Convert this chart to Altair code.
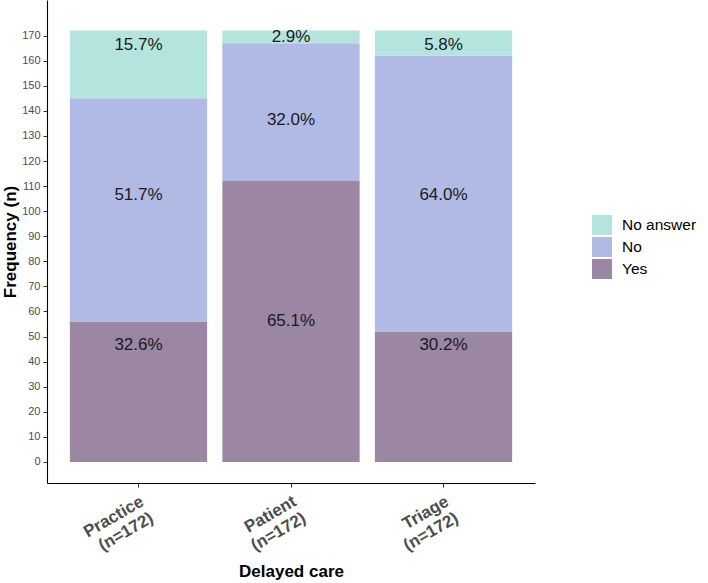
import altair as alt
import pandas as pd

# Survey responses on delayed care, by respondent group (n=172 each)
groups = ["Practice (n=172)", "Patient (n=172)", "Triage (n=172)"]
responses = ["No answer", "No", "Yes"]
yes_n = [56, 112, 52]
no_n = [89, 55, 110]
no_answer_n = [27, 5, 10]
group_total = [172, 172, 172]

# Heights (in counts) where the percentage labels sit
yes_label_y = [47.0, 56.7, 47.0]
no_label_y = [106.7, 136.8, 106.7]
no_answer_label_y = [166.7, 169.9, 166.7]

# Tick positions on the frequency axis
y_ticks = [0, 10, 20, 30, 40, 50, 60, 70, 80, 90, 100, 110, 120, 130, 140, 150, 160, 170]

colors = ["#b5e3dd", "#b0bae5", "#9b86a4"]

rows = []
for i, g in enumerate(groups):
    for resp, counts, ly, rank in [
        ("Yes", yes_n, yes_label_y, 0),
        ("No", no_n, no_label_y, 1),
        ("No answer", no_answer_n, no_answer_label_y, 2),
    ]:
        n = counts[i]
        rows.append({
            "group": g,
            "response": resp,
            "n": n,
            "rank": rank,
            "label_y": ly[i],
            "pct_label": f"{100 * n / group_total[i]:.1f}%",
        })
df = pd.DataFrame(rows)

FONT = "Liberation Sans"

x_axis = alt.Axis(
    title="Delayed care",
    labelAngle=-30,
    labelAlign="right",
    labelBaseline="top",
    labelFontSize=17,
    labelFontWeight="bold",
    labelColor="#4d4d4d",
    labelLineHeight=19,
    labelPadding=6,
    labelExpr="[split(datum.label, ' ')[0], split(datum.label, ' ')[1]]",
    titleFontSize=17,
    titleFontWeight="bold",
    titleColor="#000000",
    titleBaseline="alphabetic",
    titleY=93,
    tickSize=4,
    tickColor="#333333",
    domainColor="#000000",
    domainWidth=1.1,
)

y_axis = alt.Axis(
    title="Frequency (n)",
    values=y_ticks,
    labelOverlap=False,
    labelFontSize=11,
    labelColor="#4d4d4d",
    labelPadding=3,
    tickSize=4,
    tickColor="#333333",
    domainColor="#000000",
    domainWidth=1.1,
    grid=False,
    titleFontSize=17,
    titleFontWeight="bold",
    titleColor="#000000",
    titleAngle=-90,
    titleBaseline="alphabetic",
    titleAlign="center",
    titleX=-32,
    titleY=241.5,
)

x_scale = alt.Scale(paddingInner=0.1, paddingOuter=0.15)
y_scale = alt.Scale(domain=[-8.4, 184.2], nice=False, zero=False)

bars = alt.Chart(df).mark_bar().encode(
    x=alt.X("group:N", sort=groups, scale=x_scale, axis=x_axis),
    y=alt.Y("n:Q", stack="zero", scale=y_scale, axis=y_axis),
    color=alt.Color(
        "response:N",
        scale=alt.Scale(domain=responses, range=colors),
        legend=alt.Legend(
            title=None,
            orient="none",
            legendX=545,
            legendY=215,
            symbolType="square",
            symbolSize=400,
            symbolStrokeWidth=0,
            symbolOpacity=1,
            labelFontSize=15.5,
            labelFont=FONT,
            labelColor="#000000",
            labelOffset=10,
            rowPadding=2,
            padding=0,
        ),
    ),
    order=alt.Order("rank:Q", sort="ascending"),
)

labels = alt.Chart(df).mark_text(
    fontSize=17, font=FONT, color="#1a1a1a", baseline="middle", dy=1
).encode(
    x=alt.X("group:N", sort=groups, scale=x_scale, axis=x_axis),
    y=alt.Y("label_y:Q", scale=y_scale, axis=y_axis),
    text="pct_label:N",
)

chart = (
    alt.layer(bars, labels)
    .properties(
        width=488,
        height=483,
        autosize=alt.AutoSizeParams(type="none"),
        padding={"left": 47, "top": 0, "right": 173, "bottom": 100},
    )
    .configure(font=FONT)
    .configure_view(stroke=None)
    .configure_axis(labelFont=FONT, titleFont=FONT)
)

chart.save("out.html", embed_options={"renderer": "svg", "actions": False})
